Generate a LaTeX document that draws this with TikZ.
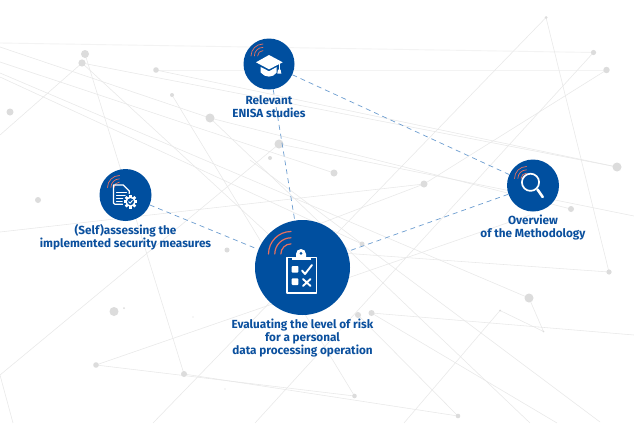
\documentclass[tikz,border=0pt]{standalone}
\usepackage{fontspec}
\setmainfont{Fira Sans}
\definecolor{hubblue}{HTML}{004F9F}
\definecolor{labelblue}{HTML}{0B509E}
\definecolor{dashblue}{HTML}{6C9DD0}
\definecolor{netline}{HTML}{E8E8E8}
\definecolor{netfaint}{HTML}{F3F3F3}
\definecolor{netdot}{HTML}{DCDCDC}
\definecolor{wifisalmon}{HTML}{E8705E}
\tikzset{
  hub/.style={circle,fill=hubblue,inner sep=0pt},
  net/.style={draw=netline,line width=0.55pt},
  netsoft/.style={draw=netfaint,line width=0.9pt},
  link/.style={draw=dashblue,line width=0.7pt,dash pattern=on 5pt off 4pt},
  caption/.style={align=center,text=labelblue,inner sep=0pt,font=\fontsize{11.75}{12.9}\selectfont\bfseries},
  icon/.style={draw=white,line join=round,line cap=round},
  wave/.style={draw=wifisalmon,line cap=round},
}
\newcommand{\wifiarcs}[4]{% x, y, unit radius, width
  \foreach \k in {1,0.72,0.45}{
    \draw[wave,line width=#4pt] ([shift={(180:\k*#3)}]#1,#2) arc[start angle=180,end angle=270,radius=\k*#3];
  }}
\begin{document}
\begin{tikzpicture}[x=1pt,y=-1pt]
\useasboundingbox (0,0) rectangle (634,423);
\fill[white] (0,0) rectangle (634,423);
% network points
\foreach \n/\x/\y in {
 a/85/54,b/82/63,c/156/70,d/172/95,e/210/118,f/279/144,g/270/158,h/10/112,i/38/200,
 j/546/17.5,k/593.5/52.5,l/606.5/70,m/617/167,n/334/173,o/424/184,p/571/209,
 q/227/250,r/114/311.5,s/124/308,t/193/317,u/96/365,v/184/374,w/225/389,
 x/362/244,y/609/272,z/529/298,aa/500/310.5,ab/543.5/331.5,ac/358/315,ad/371.5/313,ae/354.5/396,af/458/416}
 {\coordinate (\n) at (\x,\y);}
% faint lines
\draw[netsoft] (0,43) -- (k);
\draw[netsoft] (c) -- (l);
% network lines
\draw[net] (b) -- (m);
\draw[net] (c) -- (m);
\draw[net] (0,47) -- (e) -- (p);
\draw[net] (0,62) -- (n);
\draw[net] (0,73) -- (z);
\draw[net] (0,77) -- (x);
\draw[net] (f) -- (634,216);
\draw[net] (e) -- (530,423);
\draw[net] (d) -- (ae);
\draw[net] (a) -- (v);
\draw[net] (b) -- (0,135);
\draw[net] (b) -- (290,254);
\draw[net] (250,160) -- (600,422);
\draw[net] (f) -- (0,375) -- (13,423);
\draw[net] (u) -- (ae);
\draw[net] (v) -- (af);
\draw[net] (u) -- (530,215);
\draw[net] (0,232) -- (o);
\draw[net] (o) -- (277,240);
\draw[net] (l) -- (o);
\draw[net] (j) -- (153,423);
\draw[net] (k) -- (255,423);
\draw[net] (j) -- (y);
\draw[net] (300,250) -- (y);
\draw[net] (ad) -- (634,335);
\draw[net] (ad) -- (557,423);
\draw[net] (ac) -- (af);
\draw[net] (aa) -- (404,423);
\draw[net] (aa) -- (ab) -- (z);
% network dots
\foreach \n/\r in {a/4,b/3.6,c/2.8,d/2,e/4.5,f/4.5,g/2,h/3.5,i/3,j/1.5,k/2.6,l/3.2,m/4.5,n/3.5,o/3.5,p/3,q/2.5,r/4.5,s/1,t/0.7,u/2.8,v/3,w/0.7,x/2.5,y/2.6,z/4.5,aa/1,ab/0.8,ac/3,ad/3,ae/2.3,af/2.3}
 {\fill[netdot] (\n) circle[radius=\r];}
% hubs
\node[hub,minimum size=95pt] (risk) at (302.5,267.5) {};
\node[hub,minimum size=51pt] (studies) at (269,64) {};
\node[hub,minimum size=52pt] (selfassess) at (125.5,195) {};
\node[hub,minimum size=52pt] (overview) at (533,185.5) {};
% connectors
\draw[link] (studies) -- (risk);
\draw[link] (studies) -- (overview);
\draw[link] (selfassess) -- (risk);
\draw[link] (overview) -- (risk);
% signal arcs
\wifiarcs{291}{254}{22.5}{1.2}
\wifiarcs{263}{56}{12}{0.7}
\wifiarcs{119.5}{187.5}{12}{0.7}
\wifiarcs{526.5}{178.5}{12}{0.7}
% clipboard icon
\draw[icon,line width=1.5pt] (287,257.5) rectangle (316.5,293);
\fill[white] (296,257.5) -- (296,254) arc[start angle=180,end angle=360,radius=5] -- (306,257.5) -- cycle;
\fill[white] (292,256.5) rectangle (311,260);
\fill[hubblue] (301,253.4) circle[radius=1.5];
\fill[white,rounded corners=0.8pt] (291.7,266) rectangle (298.3,272.7);
\fill[white,rounded corners=0.8pt] (291.7,278.3) rectangle (298.3,285);
\draw[icon,line width=1.9pt] (302,270.5) -- (305,274) -- (312,265);
\draw[icon,line width=1.9pt] (303,279) -- (310.5,286) (310.5,279) -- (303,286);
% cap icon
\fill[white] (269,55) -- (282.7,62.3) -- (269,69.3) -- (256,62.3) -- cycle;
\fill[white] (260.7,67) -- (269,71.3) -- (276.7,67) -- (276.7,72.5) .. controls (273,78) and (265,78) .. (260.7,72.5) -- cycle;
\draw[icon,line width=1pt] (279.3,63.5) -- (279.3,70);
\fill[white] (278,69.5) -- (280.6,69.5) -- (281.3,73.5) -- (277.3,73.5) -- cycle;
% document icon
\draw[icon,line width=1.2pt] (127,204.3) -- (115,204.3) .. controls (114,204.3) and (113.4,203.7) .. (113.4,203) -- (113.4,185) -- (123.3,185) -- (129.3,191) -- (129.3,199);
\draw[icon,line width=1pt] (116.5,192) -- (126.5,192) (116.5,195) -- (126.5,195) (116.5,198) -- (125,198) (116.5,201) -- (123,201);
\fill[hubblue] (130.5,201.7) circle[radius=8];
\fill[white] (130.5,201.7) circle[radius=5.2];
\foreach \a in {0,45,...,315}{
  \fill[white,rotate around={\a:(130.5,201.7)}] (129.2,194.9) rectangle (131.8,198);
}
\fill[hubblue] (130.5,201.7) circle[radius=3.5];
\draw[icon,line width=0.9pt] (128.8,201.8) -- (130.2,203.2) -- (132.4,200.4);
% magnifier icon
\draw[icon,line width=1.7pt] (530.5,182.3) circle[radius=8.6];
\draw[icon,line width=2.6pt] (537.5,189.5) -- (542.7,197);
% captions
\node[caption] (studiesText) at (269,106.5) {Relevant\\ENISA studies};
\node[caption] (selfText) at (125.5,237.5) {(Self)assessing the\\implemented security measures};
\node[caption] (overviewText) at (533,227.5) {Overview\\of the Methodology};
\node[caption] (riskText) at (302.5,338.2) {Evaluating the level of risk\\for a personal\\data processing operation};
\end{tikzpicture}
\end{document}
